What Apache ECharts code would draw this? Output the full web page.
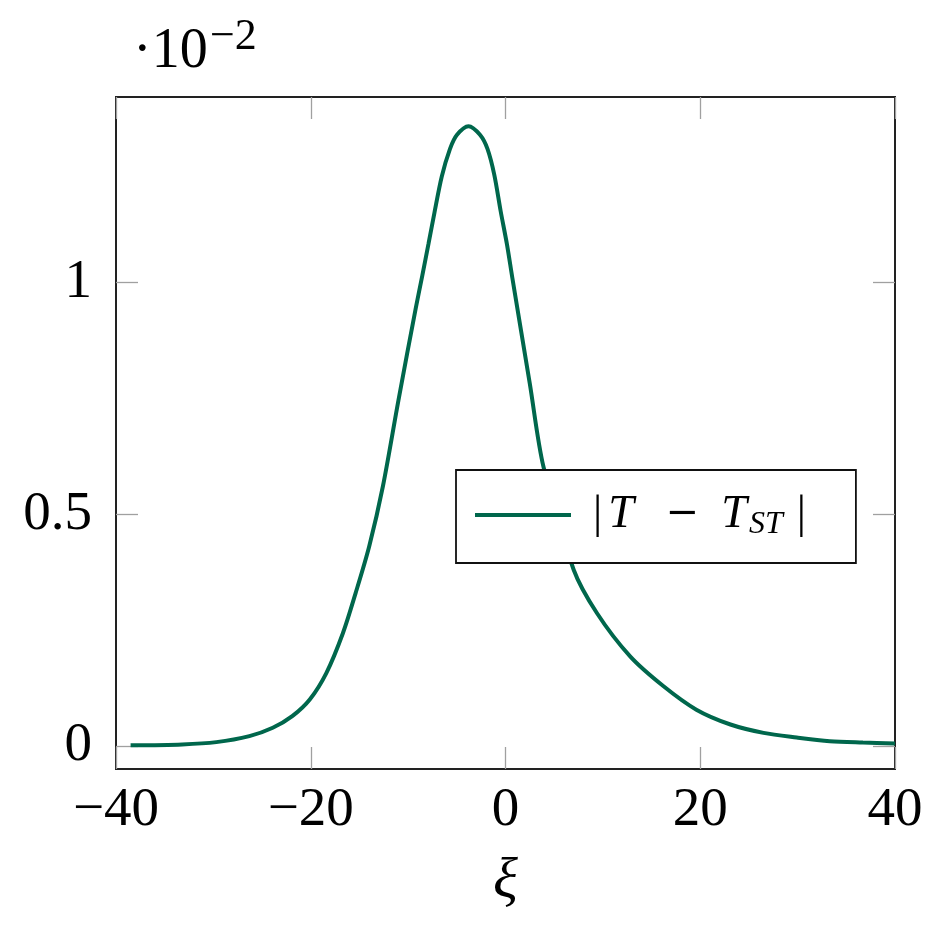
<!DOCTYPE html>
<html>
<head>
<meta charset="utf-8">
<script src="https://cdn.jsdelivr.net/npm/echarts@6/dist/echarts.min.js"></script>
<style>
  html, body { margin: 0; padding: 0; background: #fff; }
  #chart { width: 944px; height: 931px; }
</style>
</head>
<body>
<div id="chart"></div>
<script>
// values, y in units of 1e-2
const xi = [-38.5, -33.2, -29.7, -26.3, -23.9, -21.9, -20.1, -18.4, -16.7, -15.4, -14.0, -12.6,
  -11.0, -9.2, -8.55, -7.9, -7.3, -6.55, -5.7, -5.0, -3.8, -2.6, -1.85, -1.15, -0.5, 0.15, 0.7,
  2.5, 3.9, 7.0, 9.4, 12.8, 16.2, 19.6, 23.1, 26.5, 29.9, 33.3, 36.7, 40];
const diff = [0.001, 0.003, 0.008, 0.021, 0.039, 0.064, 0.100, 0.157, 0.243, 0.329, 0.430, 0.559,
  0.745, 0.946, 1.014, 1.084, 1.150, 1.228, 1.288, 1.318, 1.337, 1.318, 1.288, 1.232, 1.154, 1.082, 1.010,
  0.781, 0.602, 0.380, 0.286, 0.193, 0.129, 0.078, 0.046, 0.028, 0.018, 0.010, 0.007, 0.005];
const yTicks = [0, 0.5, 1];
const seriesName = 'abs';

const serif = '"Liberation Serif", "DejaVu Serif", serif';
const lineColor = '#00674c';
const tickStyle = { color: '#a0a0a0', width: 1.3 };

const chart = echarts.init(document.getElementById('chart'));

const fmtNum = v => (v < 0 ? '\u2212' + Math.abs(v) : String(v));

const hiddenLine = { show: false, onZero: false };

const options = {
  animation: false,
  grid: {
    left: 116, right: 49, top: 97, bottom: 162,
    show: true, borderColor: '#222', borderWidth: 2,
    outerBoundsMode: 'none'
  },
  legend: {
    left: 456, top: 470,
    orient: 'vertical',
    padding: [22, 50, 22, 19],
    backgroundColor: '#fff',
    borderColor: '#111', borderWidth: 1.8,
    icon: 'rect',
    itemWidth: 96, itemHeight: 4,
    formatter: () => '{b||}{t1|T}{m|\u2212}{t2|T}{s|ST}{e||}',
    textStyle: {
      fontFamily: serif, fontSize: 46, color: '#000',
      rich: {
        b: { fontFamily: serif, fontSize: 46, lineHeight: 52, padding: [0, 4, 0, 17] },
        t1: { fontFamily: serif, fontSize: 46, fontStyle: 'italic', lineHeight: 52, padding: [0, 18, 0, 2] },
        m: { fontFamily: '"DejaVu Serif", serif', fontSize: 40, lineHeight: 52, padding: [0, 22, 0, 14] },
        t2: { fontFamily: serif, fontSize: 46, fontStyle: 'italic', lineHeight: 52, padding: [0, 2, 0, 0] },
        s: { fontFamily: serif, fontSize: 32, fontStyle: 'italic', lineHeight: 52, verticalAlign: 'bottom', padding: [0, 14, 0, 0] },
        e: { fontFamily: serif, fontSize: 46, lineHeight: 52 }
      }
    },
    data: [seriesName]
  },
  xAxis: [
    {
      type: 'value', min: -40, max: 40, interval: 20,
      name: '\u03be', nameLocation: 'middle', nameGap: 84,
      nameTextStyle: { fontFamily: serif, fontSize: 58, fontStyle: 'italic', color: '#000' },
      axisLine: hiddenLine,
      axisTick: { inside: true, length: 22, lineStyle: tickStyle },
      splitLine: { show: false },
      axisLabel: { fontFamily: serif, fontSize: 55, color: '#000', margin: 14, formatter: fmtNum,
        showMinLabel: true, showMaxLabel: true }
    },
    {
      type: 'value', min: -40, max: 40, interval: 20, position: 'top',
      axisLine: hiddenLine,
      axisTick: { inside: true, length: 22, lineStyle: tickStyle },
      splitLine: { show: false },
      axisLabel: { show: false }
    }
  ],
  yAxis: [
    {
      type: 'value', min: -0.05, max: 1.4,
      axisLine: hiddenLine,
      axisTick: { inside: true, length: 22, lineStyle: tickStyle, customValues: yTicks },
      splitLine: { show: false },
      axisLabel: { fontFamily: serif, fontSize: 55, color: '#000', margin: 24,
        customValues: yTicks, formatter: v => String(v) }
    },
    {
      type: 'value', min: -0.05, max: 1.4, position: 'right',
      axisLine: hiddenLine,
      axisTick: { inside: true, length: 22, lineStyle: tickStyle, customValues: yTicks },
      splitLine: { show: false },
      axisLabel: { show: false, customValues: yTicks }
    }
  ],
  graphic: [
    { type: 'text', left: 133, top: 24,
      style: { text: '\u00b710', font: '56px ' + serif, fill: '#000' } },
    { type: 'text', left: 210, top: 15,
      style: { text: '\u22122', font: '44px ' + serif, fill: '#000' } }
  ],
  series: [
    {
      name: seriesName,
      type: 'line',
      data: xi.map((x, k) => [x, diff[k]]),
      symbol: 'none',
      smooth: 0.3,
      lineStyle: { color: lineColor, width: 4 },
      itemStyle: { color: lineColor },
      z: 2
    }
  ]
};

chart.setOption(options);
window.addEventListener('resize', () => chart.resize());
</script>
</body>
</html>
